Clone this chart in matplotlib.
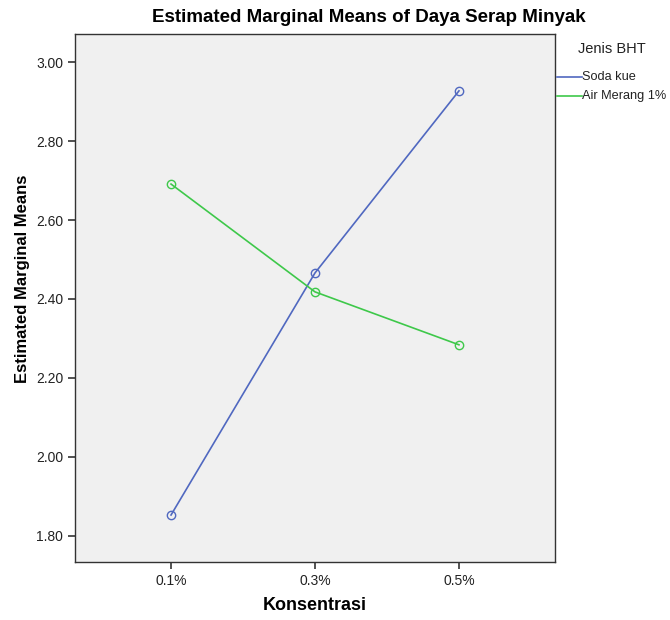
import matplotlib
matplotlib.use("Agg")
import matplotlib.pyplot as plt
from matplotlib.lines import Line2D

plt.rcParams["font.family"] = ["Liberation Sans", "DejaVu Sans"]

konsentrasi = ["0.1%", "0.3%", "0.5%"]
soda_kue = [1.853, 2.466, 2.927]
air_merang = [2.691, 2.418, 2.284]
yticks = [1.80, 2.00, 2.20, 2.40, 2.60, 2.80, 3.00]
series_names = ["Soda kue", "Air Merang 1%"]

blue = "#5068c0"
green = "#3ec84a"

fig = plt.figure(figsize=(6.7, 6.2), dpi=100)
ax = fig.add_axes([75/670, 1-562/620, 480/670, 528/620])
ax.set_facecolor("#f0f0f0")

x = list(range(len(konsentrasi)))
ax.plot(x, soda_kue, color=blue, lw=1.2, marker="o", ms=6, mfc="none", mec=blue, mew=1.0)
ax.plot(x, air_merang, color=green, lw=1.2, marker="o", ms=6, mfc="none", mec=green, mew=1.0)

ax.set_xlim(-0.667, 2.667)
ax.set_ylim(1.734, 3.071)
ax.set_xticks(x)
ax.set_xticklabels(konsentrasi, fontsize=10, color="#222222")
ax.set_yticks(yticks)
ax.set_yticklabels(["%.2f" % v for v in yticks], fontsize=10, color="#222222")
ax.tick_params(direction="out", length=5, width=1.2, color="#333333")
for s in ax.spines.values():
    s.set_color("#333333")
    s.set_linewidth(1.0)

ax.set_xlabel("Konsentrasi", fontsize=13, fontweight="bold", va="center")
ax.xaxis.set_label_coords(0.5, -(606-562)/528)
ax.set_ylabel("Estimated Marginal Means", fontsize=12, fontweight="bold", va="center")
ax.yaxis.set_label_coords(-(75-23)/480, (562-279)/528)
fig.text(369/670, 1-18/620, "Estimated Marginal Means of Daya Serap Minyak",
         fontsize=13.5, fontweight="bold", ha="center", va="center")

# legend drawn by hand, SPSS style
fig.text(612/670, 1-49/620, "Jenis BHT", fontsize=10.5, ha="center", va="center", color="#222222")
for i, (name, col) in enumerate(zip(series_names, [blue, green])):
    yy = 1 - (77 + 19*i)/620
    fig.add_artist(Line2D([557/670, 582/670], [yy, yy], color=col, lw=1.2, transform=fig.transFigure))
    fig.text(582/670, yy, name, fontsize=9.2, ha="left", va="center", color="#222222")

fig.savefig("out.png", dpi=100)
